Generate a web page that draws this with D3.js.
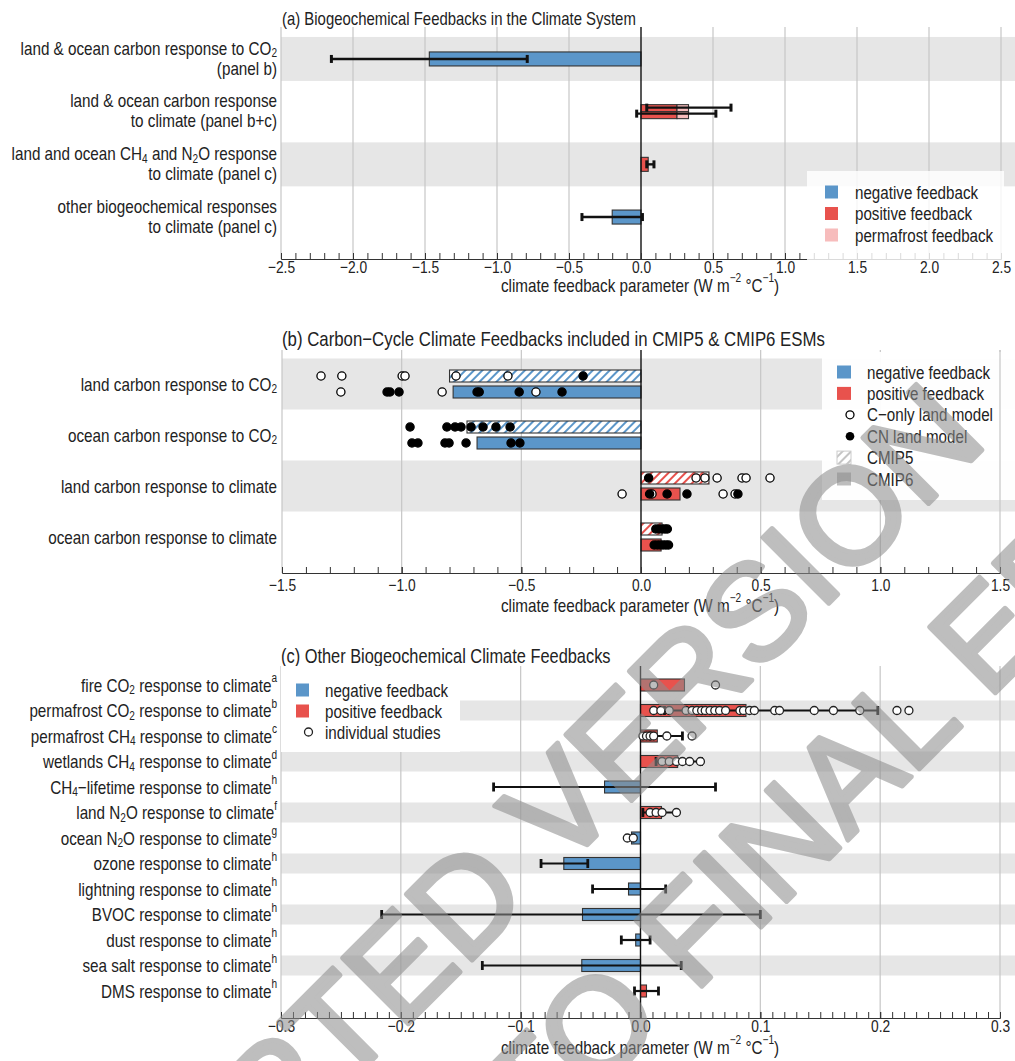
<!DOCTYPE html>
<html><head><meta charset="utf-8">
<script src="https://cdn.jsdelivr.net/npm/d3@7"></script>
<style>body{margin:0;background:#fff}svg{display:block}</style>
</head><body>
<svg id="chart" width="1015" height="1061"></svg>
<script>
// ---------------- DATA ----------------
// Panel (a)
const aTitle = "(a) Biogeochemical Feedbacks in the Climate System";
const aLabels = [
  ["land & ocean carbon response to CO_2", "(panel b)"],
  ["land & ocean carbon response", "to climate (panel b+c)"],
  ["land and ocean CH_4 and N_2O response", "to climate (panel c)"],
  ["other biogeochemical responses", "to climate (panel c)"]
];
const aSegRow  = [0, 1, 1, 1, 1, 1, 2, 3];
const aSegLane = ["full","upper","upper","upper","lower","lower","full","full"];
const aSegFrom = [0, 0, 0.04, 0.25, 0, 0.25, 0, 0];
const aSegTo   = [-1.47, 0.04, 0.25, 0.33, 0.25, 0.33, 0.05, -0.2];
const aSegType = ["negative","positive","positive","permafrost","positive","permafrost","positive","negative"];
const aErrRow  = [0, 1, 1, 2, 3];
const aErrLane = ["full","upper","lower","full","full"];
const aErrLow  = [-2.15, 0.04, -0.03, 0.04, -0.41];
const aErrHigh = [-0.79, 0.625, 0.52, 0.09, 0.01];
const aTicks = [-2.5,-2.0,-1.5,-1.0,-0.5,0,0.5,1.0,1.5,2.0,2.5];
const aLegend = [["negative","negative feedback"],["positive","positive feedback"],["permafrost","permafrost feedback"]];

// Panel (b)
const bTitle = "(b) Carbon\u2212Cycle Climate Feedbacks included in CMIP5 & CMIP6 ESMs";
const bLabels = ["land carbon response to CO_2","ocean carbon response to CO_2","land carbon response to climate","ocean carbon response to climate"];
const bCmip5 = [-0.80, -0.727, 0.284, 0.088];
const bCmip6 = [-0.785, -0.685, 0.163, 0.084];
const bCmip5COnly = [[-1.337,-1.25,-0.998,-0.986,-0.773,-0.556],[],[0.23,0.267,0.318,0.422,0.439,0.539],[]];
const bCmip5CN    = [[-0.242],[-0.965,-0.811,-0.777,-0.752,-0.71,-0.66,-0.606,-0.547],[0.032],[0.062,0.075,0.088,0.1,0.11]];
const bCmip6COnly = [[-1.254,-0.831,-0.439],[],[-0.079,0.046,0.343,0.393],[]];
const bCmip6CN    = [[-1.061,-1.049,-1.011,-0.685,-0.676,-0.509,-0.33],[-0.957,-0.932,-0.819,-0.802,-0.731,-0.543,-0.506],[0.036,0.109,0.192,0.405],[0.055,0.068,0.08,0.092,0.104,0.115]];
const bTicks = [-1.5,-1.0,-0.5,0,0.5,1.0,1.5];
const bLegend = ["negative feedback","positive feedback","C\u2212only land model","CN land model","CMIP5","CMIP6"];

// Panel (c)
const cTitle = "(c) Other Biogeochemical Climate Feedbacks";
const cLabels = [
  "fire CO_2 response to climate^a",
  "permafrost CO_2 response to climate^b",
  "permafrost CH_4 response to climate^c",
  "wetlands CH_4 response to climate^d",
  "CH_4\u2212lifetime response to climate^h",
  "land N_2O response to climate^f",
  "ocean N_2O response to climate^g",
  "ozone response to climate^h",
  "lightning response to climate^h",
  "BVOC response to climate^h",
  "dust response to climate^h",
  "sea salt response to climate^h",
  "DMS response to climate^h"
];
const cValues = [0.0367, 0.088, 0.014, 0.031, -0.030, 0.0175, -0.0075, -0.064, -0.010, -0.0484, -0.004, -0.049, 0.005];
const cLow    = [null, 0.02, 0.008, 0.013, -0.1226, 0.002, null, -0.083, -0.04, -0.216, -0.016, -0.132, -0.005];
const cHigh   = [null, 0.198, 0.035, 0.051, 0.0626, 0.030, null, -0.044, 0.021, 0.10, 0.008, 0.034, 0.015];
const cStudies = [
  [0.011, 0.0626],
  [0.011,0.017,0.024,0.038,0.043,0.047,0.051,0.054,0.058,0.062,0.066,0.071,0.083,0.086,0.091,0.095,0.112,0.116,0.145,0.161,0.183,0.214,0.224],
  [0.002,0.005,0.008,0.011,0.022,0.043],
  [0.018,0.024,0.030,0.035,0.041,0.050],
  [],
  [0.008,0.013,0.018,0.030],
  [-0.011,-0.006],
  [],[],[],[],[],[]
];
const cTicks = [-0.3,-0.2,-0.1,0,0.1,0.2,0.3];
const cLegend = [["negative","negative feedback"],["positive","positive feedback"],["study","individual studies"]];

const axisTitle = "climate feedback parameter (W m^{\u22122} \u00b0C^{\u22121})";
const watermark1 = ["ACCEPTED", "VERSION"];
const watermark2 = ["SUBJECT TO", "FINAL EDITS"];

// ---------------- STYLE ----------------
const BLUE = "#5b96c9", RED = "#e8524d", PINK = "#f7bcbc", BAND = "#e6e6e6", GRID = "#c6c6c6", TXT = "#222", OUT = "#333";
const typeColor = {negative: BLUE, positive: RED, permafrost: PINK};

function fontAvailable(name){
  const c = document.createElement('canvas').getContext('2d');
  const s = "abcdefghijklmnopqrstuvwxyz ABCDEFGH 0123456789";
  c.font = "40px monospace"; const w0 = c.measureText(s).width;
  c.font = "40px '" + name + "', monospace"; const w1 = c.measureText(s).width;
  return Math.abs(w0 - w1) > 0.5;
}
const NARROW = fontAvailable("Liberation Sans Narrow");
const FF = NARROW ? "'Liberation Sans Narrow','Arial Narrow',sans-serif" : "'Liberation Sans',Arial,sans-serif";
const SX = NARROW ? 1 : 0.82;   // horizontal condensation when no narrow face exists

const svg = d3.select('#chart').attr('font-family', FF);
const defs = svg.append('defs');
function hatch(id, color){
  const p = defs.append('pattern').attr('id', id).attr('patternUnits','userSpaceOnUse')
    .attr('width', 6).attr('height', 6).attr('patternTransform','rotate(45)');
  p.append('rect').attr('width', 6).attr('height', 6).attr('fill', '#fff');
  p.append('line').attr('x1', 3).attr('x2', 3).attr('y1', 0).attr('y2', 6).attr('stroke', color).attr('stroke-width', 2);
}
hatch('hB', BLUE); hatch('hR', RED); hatch('hG', '#c4c4c4');

function rich(sel, str, fs){
  const parts = str.split(/([_^]\{[^}]*\}|[_^].)/).filter(s => s.length);
  let cur = 0;
  parts.forEach(p => {
    let target = 0, size = fs, txt = p;
    if (p[0] === '_' || p[0] === '^'){
      txt = p[1] === '{' ? p.slice(2, -1) : p.slice(1);
      size = fs * 0.66;
      target = p[0] === '_' ? fs * 0.26 : -fs * 0.38;
    }
    sel.append('tspan').attr('dy', target - cur).attr('font-size', size).text(txt);
    cur = target;
  });
  return sel;
}
function label(g, x, y, str, fs, anchor){
  const wrap = g.append('g').attr('transform', `translate(${x},${y}) scale(${SX},1)`);
  const t = wrap.append('text').attr('x', 0).attr('y', 0).attr('font-size', fs)
    .attr('text-anchor', anchor || 'end').attr('fill', TXT).attr('dominant-baseline', 'central');
  return rich(t, str, fs);
}
function range(a, b, s){ const n = Math.round((b - a) / s); return d3.range(n + 1).map(i => +(a + i * s).toFixed(4)); }

function gridLines(g, x, top, axisY, majors){
  g.append('g').selectAll('line').data(majors.filter(d => d !== 0)).join('line')
    .attr('x1', d => x(d)).attr('x2', d => x(d)).attr('y1', top).attr('y2', axisY)
    .attr('stroke', GRID).attr('stroke-width', 1.2);
}
function bottomAxis(g, x, axisY, majors, minors, pad, titleY){
  const ax = g.append('g').attr('transform', `translate(0,${axisY})`);
  ax.call(d3.axisBottom(x).tickValues(minors).tickFormat('').tickSize(-6).tickSizeOuter(0));
  ax.append('g').call(d3.axisBottom(x).tickValues(majors).tickFormat(d3.format('.1f')).tickSize(-6).tickSizeOuter(0).tickPadding(pad));
  ax.attr('font-family', FF);
  ax.selectAll('g').attr('font-family', FF);
  ax.selectAll('.domain').attr('stroke', OUT);
  ax.selectAll('line').attr('stroke', OUT);
  ax.selectAll('text').attr('font-size', 16.8).attr('fill', TXT).attr('transform', `scale(${SX},1)`);
  label(g, 640, titleY, axisTitle, 18.6, 'middle');
}
function zeroLine(g, x, top, axisY){
  g.append('line').attr('x1', x(0)).attr('x2', x(0)).attr('y1', top).attr('y2', axisY).attr('stroke', '#111').attr('stroke-width', 1.4);
}
function whisker(g, x, lo, hi, y, cap, w){
  g.append('line').attr('x1', x(lo)).attr('x2', x(hi)).attr('y1', y).attr('y2', y).attr('stroke', '#111').attr('stroke-width', w);
  [lo, hi].forEach(v => g.append('line').attr('x1', x(v)).attr('x2', x(v)).attr('y1', y - cap / 2).attr('y2', y + cap / 2).attr('stroke', '#111').attr('stroke-width', w + 0.6));
}
function hbar(g, x, v0, v1, y0, h, fill){
  g.append('rect').attr('x', Math.min(x(v0), x(v1))).attr('width', Math.abs(x(v1) - x(v0)))
    .attr('y', y0).attr('height', h).attr('fill', fill).attr('stroke', OUT).attr('stroke-width', 1.1);
}

// ---------------- PANEL A ----------------
{
  const g = svg.append('g');
  const x = d3.scaleLinear().domain([-2.5, 2.5]).range([281, 1001]);
  const y = d3.scaleBand().domain(d3.range(aLabels.length)).range([32.6, 243.4]);
  const yc = i => y(i) + y.step() / 2;
  const top = 27, axisY = 259;
  g.selectAll('rect.band').data([0, 2]).join('rect').attr('x', x(-2.5)).attr('width', 1015 - x(-2.5))
    .attr('y', d => yc(d) - 22).attr('height', 44).attr('fill', BAND);
  gridLines(g, x, top, axisY, aTicks);
  label(g, 282, 18, aTitle, 18.2, 'start');
  aLabels.forEach((l, i) => { label(g, 277, yc(i) - 11, l[0], 18.6); label(g, 277, yc(i) + 9, l[1], 18.6); });
  const lane = {full: [-7, 14], upper: [-7, 7], lower: [0, 7]};
  aSegRow.forEach((r, i) => {
    const L = lane[aSegLane[i]];
    hbar(g, x, aSegFrom[i], aSegTo[i], yc(r) + L[0], L[1], typeColor[aSegType[i]]);
  });
  zeroLine(g, x, top, axisY);
  const eOff = {full: 0, upper: -4, lower: 2};
  aErrRow.forEach((r, i) => whisker(g, x, aErrLow[i], aErrHigh[i], yc(r) + eOff[aErrLane[i]], 8, 2.4));
  bottomAxis(g, x, axisY, aTicks, range(-2.5, 2.5, 0.1), 2, 285);
  g.append('rect').attr('x', 807).attr('y', 171).attr('width', 197).attr('height', 89).attr('fill', '#fff').attr('opacity', 0.82);
  aLegend.forEach((d, i) => {
    const yy = 192 + i * 21.5;
    g.append('rect').attr('x', 825).attr('y', yy - 6.5).attr('width', 13).attr('height', 13).attr('fill', typeColor[d[0]]);
    label(g, 855, yy, d[1], 18.5, 'start');
  });
}

// ---------------- PANEL B ----------------
{
  const g = svg.append('g');
  const x = d3.scaleLinear().domain([-1.5, 1.5]).range([282, 1000]);
  const y = d3.scaleBand().domain(d3.range(bLabels.length)).range([358.5, 562.5]);
  const yc = i => y(i) + y.step() / 2;
  const top = 350, axisY = 573;
  g.selectAll('rect.band').data([0, 2]).join('rect').attr('x', x(-1.5)).attr('width', 1015 - x(-1.5))
    .attr('y', d => yc(d) - 25.5).attr('height', 51).attr('fill', BAND);
  gridLines(g, x, top, axisY, bTicks);
  label(g, 282, 338, bTitle, 20.5, 'start');
  bLabels.forEach((l, i) => label(g, 277, yc(i), l, 18.6));
  bCmip5.forEach((v, i) => hbar(g, x, 0, v, yc(i) - 14, 12, v < 0 ? 'url(#hB)' : 'url(#hR)'));
  bCmip6.forEach((v, i) => hbar(g, x, 0, v, yc(i) + 2, 12, v < 0 ? BLUE : RED));
  zeroLine(g, x, top, axisY);
  const dot = (v, yy, filled) => g.append('circle').attr('cx', x(v)).attr('cy', yy).attr('r', 4.1)
    .attr('fill', filled ? '#000' : '#fff').attr('stroke', '#000').attr('stroke-width', 1.3);
  bCmip5COnly.forEach((a, i) => a.forEach(v => dot(v, yc(i) - 8, false)));
  bCmip5CN.forEach((a, i) => a.forEach(v => dot(v, yc(i) - 8, true)));
  bCmip6COnly.forEach((a, i) => a.forEach(v => dot(v, yc(i) + 8, false)));
  bCmip6CN.forEach((a, i) => a.forEach(v => dot(v, yc(i) + 8, true)));
  bottomAxis(g, x, axisY, bTicks, range(-1.5, 1.5, 0.1), 6, 605);
  g.append('rect').attr('x', 822).attr('y', 352).attr('width', 193).attr('height', 148).attr('fill', '#fff').attr('opacity', 0.95);
  g.append('line').attr('x1', x(1.5)).attr('x2', x(1.5)).attr('y1', top).attr('y2', 500).attr('stroke', GRID).attr('stroke-width', 1.2);
  bLegend.forEach((t, i) => {
    const yy = 372 + i * 21.4;
    if (i === 0) g.append('rect').attr('x', 837).attr('y', yy - 6.5).attr('width', 14).attr('height', 13).attr('fill', BLUE);
    if (i === 1) g.append('rect').attr('x', 837).attr('y', yy - 6.5).attr('width', 14).attr('height', 13).attr('fill', RED);
    if (i === 2) g.append('circle').attr('cx', 850).attr('cy', yy).attr('r', 4).attr('fill', '#fff').attr('stroke', '#000').attr('stroke-width', 1.3);
    if (i === 3) g.append('circle').attr('cx', 850).attr('cy', yy).attr('r', 4.3).attr('fill', '#000');
    if (i === 4) g.append('rect').attr('x', 837).attr('y', yy - 6.5).attr('width', 14).attr('height', 13).attr('fill', 'url(#hG)').attr('stroke', '#ccc');
    if (i === 5) g.append('rect').attr('x', 837).attr('y', yy - 6.5).attr('width', 14).attr('height', 13).attr('fill', '#bdbdbd');
    label(g, 867, yy, t, 18.5, 'start');
  });
}

// ---------------- PANEL C ----------------
{
  const g = svg.append('g');
  const x = d3.scaleLinear().domain([-0.3, 0.3]).range([281, 1000]);
  const y = d3.scaleBand().domain(d3.range(cLabels.length)).range([672.25, 1003.75]);
  const yc = i => y(i) + y.step() / 2;
  const top = 666, axisY = 1018;
  g.selectAll('rect.band').data([1, 3, 5, 7, 9, 11]).join('rect').attr('x', x(-0.3)).attr('width', 1015 - x(-0.3))
    .attr('y', d => yc(d) - 10).attr('height', 20).attr('fill', BAND);
  gridLines(g, x, top, axisY, cTicks);
  label(g, 281, 655, cTitle, 20, 'start');
  cLabels.forEach((l, i) => label(g, 277, yc(i), l, 18.6));
  cValues.forEach((v, i) => hbar(g, x, 0, v, yc(i) - 6, 12, v < 0 ? BLUE : RED));
  zeroLine(g, x, top, axisY);
  cValues.forEach((v, i) => { if (cLow[i] !== null) whisker(g, x, cLow[i], cHigh[i], yc(i), 9, 2.2); });
  cStudies.forEach((a, i) => a.forEach(v => g.append('circle').attr('cx', x(v)).attr('cy', yc(i)).attr('r', 4)
    .attr('fill', '#fff').attr('stroke', '#222').attr('stroke-width', 1.3)));
  bottomAxis(g, x, axisY, cTicks, range(-0.3, 0.3, 0.01), 2, 1047);
  g.append('rect').attr('x', 281).attr('y', 666).attr('width', 179).attr('height', 86).attr('fill', '#fff');
  cLegend.forEach((d, i) => {
    const yy = 690 + i * 21;
    if (d[0] === 'study') g.append('circle').attr('cx', 308.5).attr('cy', yy).attr('r', 4).attr('fill', '#fff').attr('stroke', '#222').attr('stroke-width', 1.3);
    else g.append('rect').attr('x', 296).attr('y', yy - 6.5).attr('width', 13).attr('height', 13).attr('fill', typeColor[d[0]]);
    label(g, 325, yy, d[1], 18.5, 'start');
  });
}

// ---------------- WATERMARK ----------------
{
  const wm = svg.append('g').attr('fill', '#8c8c8c').attr('stroke', '#8c8c8c').attr('stroke-width', 5)
    .attr('stroke-linejoin', 'round').attr('opacity', 0.56)
    .attr('font-family', "'Liberation Sans',Arial,sans-serif").attr('font-size', 135);
  const l1 = wm.append('g').attr('transform', 'translate(560,872) rotate(-45)');
  l1.append('text').attr('x', -38).attr('text-anchor', 'end').text(watermark1[0]);
  l1.append('text').attr('x', 0).text(watermark1[1]);
  const l2 = wm.append('g').attr('transform', 'translate(694,994) rotate(-45)');
  l2.append('text').attr('x', -38).attr('text-anchor', 'end').text(watermark2[0]);
  l2.append('text').attr('x', 0).text(watermark2[1]);
}
</script>
</body></html>
